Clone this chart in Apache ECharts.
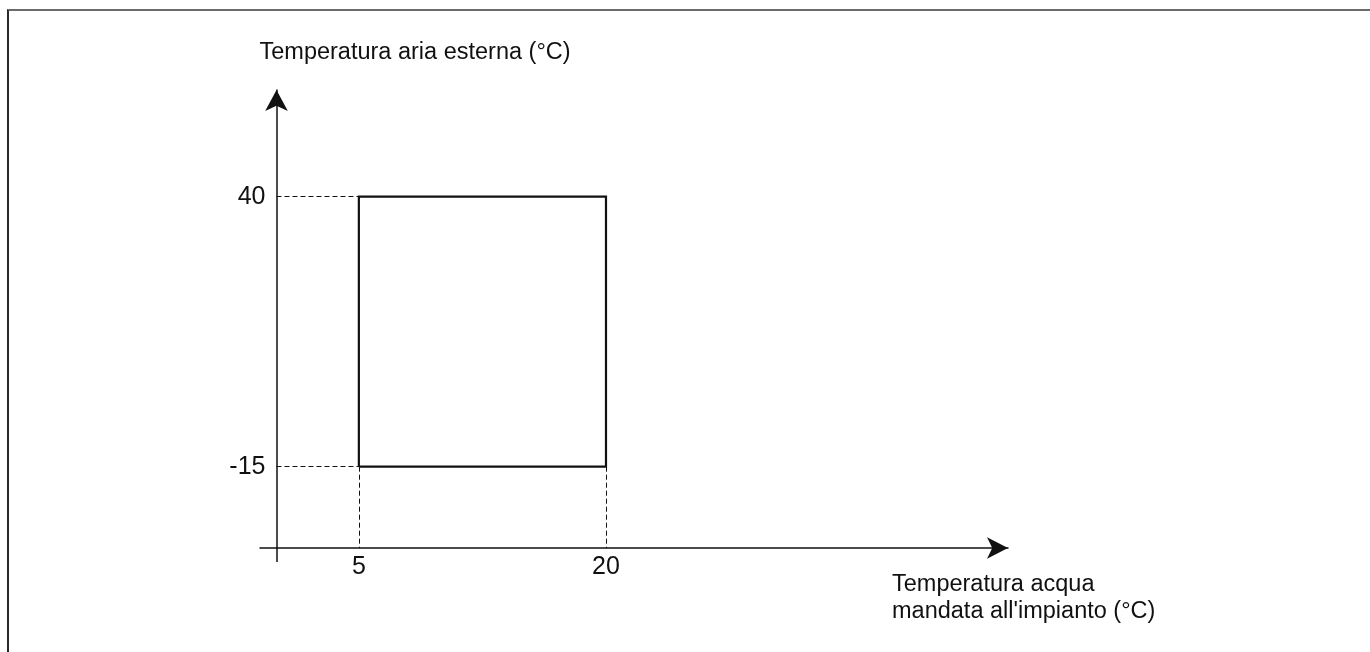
<!DOCTYPE html>
<html>
<head>
<meta charset="utf-8">
<script src="https://cdn.jsdelivr.net/npm/echarts@6/dist/echarts.min.js"></script>
<style>
  html, body { margin: 0; padding: 0; background: #fff; }
  #wrap { position: relative; width: 1370px; height: 652px; overflow: hidden; }
  #frame { position: absolute; left: 7px; top: 9px; width: 1400px; height: 700px;
           border-top: 2px solid #6a6a6a; border-left: 2px solid #2a2a2a; }
  #main { position: absolute; left: 0; top: 0; width: 1370px; height: 652px; }
</style>
</head>
<body>
<div id="wrap">
  <div id="frame"></div>
  <div id="main"></div>
</div>
<script>
// campo di funzionamento: acqua mandata 5..20 °C, aria esterna -15..40 °C
var waterRange = [5, 20]
var airRange = [-15, 40]
var xTickLabels = [5, 20]
var yTickLabels = [-15, 40]
// estensione degli assi (schema)
var xExtent = [-1, 44.4]
var yExtent = [-31.56, 61.74]

var font = "'Liberation Sans', Arial, sans-serif"
var ink = '#111'

var chart = echarts.init(document.getElementById('main'), null, { renderer: 'canvas' })

// rettangolo chiuso
var box = [
  [waterRange[0], airRange[0]],
  [waterRange[0], airRange[1]],
  [waterRange[1], airRange[1]],
  [waterRange[1], airRange[0]],
  [waterRange[0], airRange[0]]
]

// linee tratteggiate di riferimento
var guides = [
  [{ coord: [0, airRange[1]] }, { coord: [waterRange[0], airRange[1]] }],
  [{ coord: [0, airRange[0]] }, { coord: [waterRange[0], airRange[0]] }],
  [{ coord: [waterRange[0], airRange[0]] }, { coord: [waterRange[0], yExtent[0]] }],
  [{ coord: [waterRange[1], airRange[0]] }, { coord: [waterRange[1], yExtent[0]] }]
]

var option = {
  animation: false,
  backgroundColor: 'transparent',
  grid: { left: 260, right: 362, top: 90, bottom: 104, outerBoundsMode: 'none', containLabel: false },
  xAxis: {
    type: 'value',
    min: xExtent[0],
    max: xExtent[1],
    name: "Temperatura acqua\nmandata all'impianto (°C)",
    nameLocation: 'end',
    nameGap: -116,
    nameMoveOverlap: false,
    nameTextStyle: {
      fontFamily: font, fontSize: 23.5, color: ink,
      align: 'left', verticalAlign: 'top', lineHeight: 27,
      padding: [23, 0, 0, 0]
    },
    axisLine: {
      onZero: false,
      symbol: ['none', 'arrow'],
      symbolSize: [16, 21],
      lineStyle: { color: ink, width: 1.5 }
    },
    // piccolo prolungamento dell'asse y sotto l'asse x
    axisTick: { show: true, customValues: [0], length: 14, inside: false, lineStyle: { color: ink, width: 1.5 } },
    axisLabel: { customValues: xTickLabels, fontFamily: font, fontSize: 25, color: ink, margin: 7 },
    splitLine: { show: false }
  },
  yAxis: {
    type: 'value',
    min: yExtent[0],
    max: yExtent[1],
    offset: -16.5, // asse y sullo zero dell'asse x
    name: 'Temperatura aria esterna (°C)',
    nameLocation: 'end',
    nameGap: 25,
    nameMoveOverlap: false,
    nameTextStyle: {
      fontFamily: font, fontSize: 23.5, color: ink,
      align: 'left', verticalAlign: 'bottom',
      padding: [0, 0, 0, -17]
    },
    axisLine: {
      onZero: false,
      symbol: ['none', 'arrow'],
      symbolSize: [17, 21],
      lineStyle: { color: ink, width: 1.5 }
    },
    axisTick: { show: false },
    axisLabel: { customValues: yTickLabels, fontFamily: font, fontSize: 25, color: ink, margin: 11 },
    splitLine: { show: false }
  },
  series: [{
    type: 'line',
    data: box,
    symbol: 'none',
    clip: false,
    lineStyle: { color: ink, width: 2.2, join: 'miter' },
    markLine: {
      silent: true,
      symbol: 'none',
      label: { show: false },
      lineStyle: { color: ink, width: 1, type: [5, 3] },
      data: guides
    }
  }]
}

chart.setOption(option)
</script>
</body>
</html>
